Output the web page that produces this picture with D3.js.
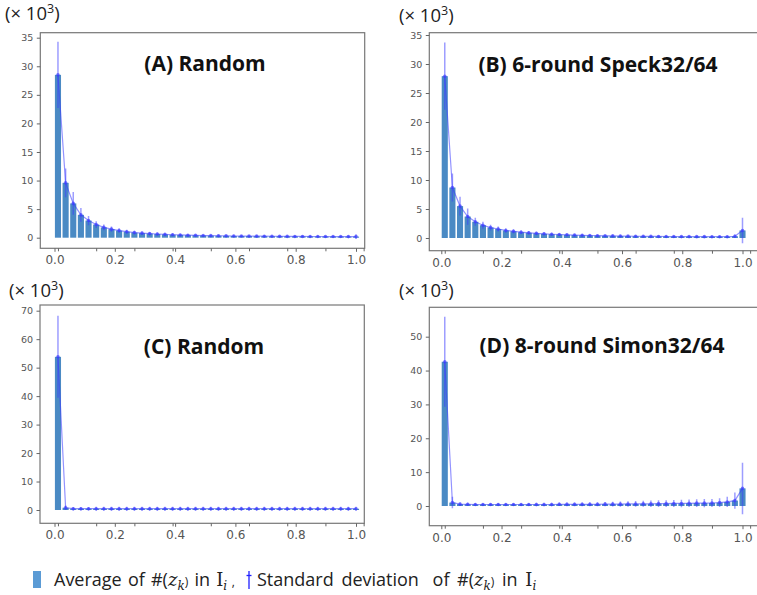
<!DOCTYPE html>
<html>
<head>
<meta charset="utf-8">
<script src="https://cdn.jsdelivr.net/npm/d3@7"></script>
<style>
  body { margin: 0; background: #fff; }
  svg { display: block; }
  .tick text { fill: #555; }
</style>
</head>
<body>
<div id="visualization"></div>
<script>
// 40 bins on [0, 1], values in thousands
var binCount = 40
var firstPos = 0.0115

var titleA = '(A) Random'
var titleB = '(B) 6-round Speck32/64'
var titleC = '(C) Random'
var titleD = '(D) 8-round Simon32/64'

var xTicks = [0, 0.2, 0.4, 0.6, 0.8, 1.0]
var indexTicks = [0, 5, 10, 15, 20, 25, 30, 35, 40]
var yTicks35 = [0, 5, 10, 15, 20, 25, 30, 35]
var yTicks70 = [0, 10, 20, 30, 40, 50, 60, 70]
var yTicks50 = [0, 10, 20, 30, 40, 50]

var avgA = [28.5, 9.6, 6.0, 4.0, 3.0, 2.3, 1.8, 1.5, 1.25, 1.05,
  0.9, 0.8, 0.72, 0.65, 0.58, 0.52, 0.48, 0.44, 0.41, 0.38,
  0.36, 0.34, 0.32, 0.3, 0.29, 0.28, 0.27, 0.26, 0.25, 0.24,
  0.23, 0.22, 0.22, 0.21, 0.21, 0.2, 0.2, 0.2, 0.19, 0.19]
var stdA = [5.8, 2.5, 2.0, 1.2, 0.8, 0.6, 0.5, 0.45, 0.4, 0.35,
  0.32, 0.3, 0.28, 0.26, 0.25, 0.24, 0.23, 0.22, 0.21, 0.2,
  0.2, 0.2, 0.2, 0.2, 0.2, 0.2, 0.2, 0.2, 0.2, 0.2,
  0.2, 0.2, 0.2, 0.2, 0.2, 0.2, 0.2, 0.2, 0.25, 0.4]

var avgB = [27.9, 8.7, 5.5, 3.7, 2.8, 2.2, 1.8, 1.55, 1.3, 1.15,
  1.0, 0.9, 0.8, 0.72, 0.65, 0.6, 0.55, 0.5, 0.46, 0.43,
  0.4, 0.38, 0.36, 0.34, 0.32, 0.3, 0.29, 0.28, 0.27, 0.26,
  0.25, 0.24, 0.24, 0.23, 0.23, 0.22, 0.22, 0.22, 0.3, 1.3]
var stdB = [5.8, 2.4, 1.6, 1.4, 0.7, 0.6, 0.5, 0.45, 0.4, 0.35,
  0.32, 0.3, 0.28, 0.26, 0.25, 0.24, 0.23, 0.22, 0.21, 0.2,
  0.2, 0.2, 0.2, 0.2, 0.2, 0.2, 0.2, 0.2, 0.2, 0.2,
  0.2, 0.2, 0.2, 0.2, 0.2, 0.2, 0.2, 0.2, 0.3, 2.2]

var avgC = [53.8, 0.8, 0.45, 0.45, 0.45, 0.45, 0.45, 0.45, 0.45, 0.45,
  0.45, 0.45, 0.45, 0.45, 0.45, 0.45, 0.45, 0.45, 0.45, 0.45,
  0.45, 0.45, 0.45, 0.45, 0.45, 0.45, 0.45, 0.45, 0.45, 0.45,
  0.45, 0.45, 0.45, 0.45, 0.45, 0.45, 0.45, 0.45, 0.45, 0.45]
var stdC = [14.4, 0.8, 0.6, 0.6, 0.6, 0.7, 0.7, 0.7, 0.7, 0.7,
  0.7, 0.7, 0.7, 0.7, 0.7, 0.7, 0.7, 0.7, 0.7, 0.7,
  0.7, 0.7, 0.7, 0.7, 0.7, 0.7, 0.7, 0.7, 0.7, 0.7,
  0.7, 0.7, 0.7, 0.7, 0.7, 0.7, 0.7, 0.7, 0.7, 0.7]

var avgD = [42.6, 1.0, 0.55, 0.5, 0.45, 0.45, 0.45, 0.45, 0.45, 0.45,
  0.45, 0.45, 0.45, 0.45, 0.45, 0.5, 0.5, 0.5, 0.5, 0.5,
  0.5, 0.55, 0.55, 0.55, 0.6, 0.6, 0.65, 0.65, 0.7, 0.7,
  0.75, 0.75, 0.8, 0.85, 0.85, 0.9, 1.0, 1.2, 1.6, 5.2]
var stdD = [13.3, 1.7, 0.5, 0.45, 0.45, 0.45, 0.45, 0.45, 0.45, 0.45,
  0.45, 0.45, 0.5, 0.5, 0.5, 0.5, 0.55, 0.55, 0.55, 0.6,
  0.6, 0.65, 0.7, 0.75, 0.8, 0.85, 0.9, 0.95, 1.0, 1.0,
  1.05, 1.1, 1.1, 1.15, 1.2, 1.2, 1.3, 1.5, 2.4, 7.6]

var panels = [
  {title: titleA, avg: avgA, std: stdA, yTicks: yTicks35,
    frame: [40.3, 32.7, 364.7, 248.3], xr: [54.5, 356], yr: [237.7, 37.7],
    titleX: 205, titleY: 71, expX: 5, expY: 20},
  {title: titleB, avg: avgB, std: stdB, yTicks: yTicks35,
    frame: [429.3, 32.7, 772, 250.7], xr: [441.3, 742.5], yr: [238, 35],
    titleX: 598, titleY: 71.5, expX: 399, expY: 22},
  {title: titleC, avg: avgC, std: stdC, yTicks: yTicks70,
    frame: [40, 305, 364.3, 523.3], xr: [54.5, 356], yr: [510, 310.7],
    titleX: 204, titleY: 354, expX: 9, expY: 297},
  {title: titleD, avg: avgD, std: stdD, yTicks: yTicks50,
    frame: [429.3, 307.3, 772, 525.7], xr: [441.3, 742.5], yr: [506, 336.7],
    titleX: 602, titleY: 352.5, expX: 399, expY: 297}
]

var barColor = '#4a8ac4'
var errColor = '#3b3bff'

var svg = d3.select('#visualization')
  .append('svg')
  .attr('width', 757)
  .attr('height', 595)

function pos (i) {
  return firstPos + i * (1 - firstPos) / (binCount - 1)
}

function drawPanel (p, k) {
  var f = p.frame
  var yMax = p.yTicks[p.yTicks.length - 1]
  var x = d3.scaleLinear().domain([0, 1]).range(p.xr)
  var y = d3.scaleLinear().domain([0, yMax]).range(p.yr)
  var g = svg.append('g')

  svg.append('clipPath')
    .attr('id', 'clip' + k)
    .append('rect')
    .attr('x', f[0]).attr('y', f[1])
    .attr('width', f[2] - f[0]).attr('height', f[3] - f[1])

  var plot = g.append('g').attr('clip-path', 'url(#clip' + k + ')')
  var bw = x(0.8 * (1 - firstPos) / (binCount - 1)) - x(0)

  plot.selectAll('rect.bar')
    .data(p.avg)
    .enter()
    .append('rect')
    .attr('class', 'bar')
    .attr('x', function (d, i) { return x(pos(i)) - bw / 2 })
    .attr('y', function (d) { return y(d) })
    .attr('width', bw)
    .attr('height', function (d) { return y(0) - y(d) })
    .attr('fill', barColor)

  var line = d3.line()
    .x(function (d, i) { return x(pos(i)) })
    .y(function (d) { return y(d) })

  plot.append('path')
    .datum(p.avg)
    .attr('d', line)
    .attr('fill', 'none')
    .attr('stroke', errColor)
    .attr('stroke-opacity', 0.55)
    .attr('stroke-width', 1.2)

  plot.selectAll('line.err')
    .data(p.avg)
    .enter()
    .append('line')
    .attr('class', 'err')
    .attr('x1', function (d, i) { return x(pos(i)) })
    .attr('x2', function (d, i) { return x(pos(i)) })
    .attr('y1', function (d, i) { return y(d - p.std[i]) })
    .attr('y2', function (d, i) { return y(d + p.std[i]) })
    .attr('stroke', errColor)
    .attr('stroke-opacity', 0.5)
    .attr('stroke-width', 1.5)

  plot.selectAll('circle.pt')
    .data(p.avg)
    .enter()
    .append('circle')
    .attr('class', 'pt')
    .attr('cx', function (d, i) { return x(pos(i)) })
    .attr('cy', function (d) { return y(d) })
    .attr('r', 1.8)
    .attr('fill', errColor)
    .attr('fill-opacity', 0.65)

  // frame
  g.append('rect')
    .attr('x', f[0]).attr('y', f[1])
    .attr('width', f[2] - f[0]).attr('height', f[3] - f[1])
    .attr('fill', 'none')
    .attr('stroke', '#777')
    .attr('stroke-width', 1.2)

  var yAxis = g.append('g')
    .attr('transform', 'translate(' + f[0] + ',0)')
    .call(d3.axisLeft(y).tickValues(p.yTicks).tickSize(3.5).tickPadding(3.5).tickFormat(d3.format('d')))
  yAxis.select('.domain').remove()
  yAxis.selectAll('.tick line').attr('stroke', '#666')
  yAxis.selectAll('text').attr('font-family', 'DejaVu Sans').attr('font-size', 9.5)

  var xAxis = g.append('g')
    .attr('transform', 'translate(0,' + f[3] + ')')
    .call(d3.axisBottom(x).tickValues(xTicks).tickSize(3.5).tickPadding(4).tickFormat(d3.format('.1f')))
  xAxis.select('.domain').remove()
  xAxis.selectAll('.tick line').attr('stroke', '#666')
  xAxis.selectAll('text').attr('font-family', 'DejaVu Sans').attr('font-size', 12)

  // ticks of the bar index axis, no labels
  var idx = d3.scaleLinear().domain([0, 1]).range([x(pos(0)), x(pos(1))])
  var iAxis = g.append('g')
    .attr('transform', 'translate(0,' + f[3] + ')')
    .call(d3.axisBottom(idx).tickValues(indexTicks).tickSize(3).tickFormat(''))
  iAxis.select('.domain').remove()
  iAxis.selectAll('.tick line').attr('stroke', '#666')

  g.append('text')
    .attr('x', p.titleX)
    .attr('y', p.titleY)
    .attr('text-anchor', 'middle')
    .attr('font-family', 'Open Sans')
    .attr('font-weight', 700)
    .attr('font-size', 21)
    .attr('fill', '#111')
    .text(p.title)

  var ex = g.append('text')
    .attr('x', p.expX)
    .attr('y', p.expY)
    .attr('font-family', 'Open Sans')
    .attr('font-size', 18.5)
    .attr('fill', '#222')
  ex.append('tspan').text('(× 10')
  ex.append('tspan').attr('dy', -7).attr('font-size', 12.5).text('3')
  ex.append('tspan').attr('dy', 7).text(')')
}

panels.forEach(drawPanel)

// legend
var legend = svg.append('g')
legend.append('rect')
  .attr('x', 33).attr('y', 571)
  .attr('width', 8).attr('height', 17)
  .attr('fill', '#5b9bd5')

function mathLabel (t, parts) {
  parts.forEach(function (s) {
    var ts = t.append('tspan').text(s[0])
    if (s[1] === 'i') ts.attr('font-family', 'DejaVu Serif').attr('font-style', 'italic')
    if (s[1] === 'r') ts.attr('font-family', 'DejaVu Serif')
    if (s[2]) ts.attr('font-size', 12).attr('dy', s[2])
    if (s[3]) ts.attr('dx', s[3])
  })
}

var t1 = legend.append('text')
  .attr('x', 54).attr('y', 586)
  .attr('font-family', 'Open Sans')
  .attr('font-size', 18)
  .attr('word-spacing', 1.5)
  .attr('fill', '#222')
mathLabel(t1, [['Average of #('], ['z', 'i'], ['k', 'i', 4], [')', null, -4], [' in '], ['I', 'r'], ['i', 'i', 4], [' ,', null, -4]])

legend.append('line')
  .attr('x1', 249).attr('x2', 249).attr('y1', 571).attr('y2', 589)
  .attr('stroke', '#2020ff').attr('stroke-width', 1.3)
legend.append('line')
  .attr('x1', 246.5).attr('x2', 251.5).attr('y1', 575.5).attr('y2', 575.5)
  .attr('stroke', '#2020ff').attr('stroke-width', 1.3)

var t2 = legend.append('text')
  .attr('x', 257).attr('y', 586)
  .attr('font-family', 'Open Sans')
  .attr('font-size', 18)
  .attr('word-spacing', 3)
  .attr('fill', '#222')
mathLabel(t2, [['Standard deviation'], [' of #(', null, null, 6], ['z', 'i'], ['k', 'i', 4], [')', null, -4], [' in '], ['I', 'r'], ['i', 'i', 4]])
</script>
</body>
</html>
